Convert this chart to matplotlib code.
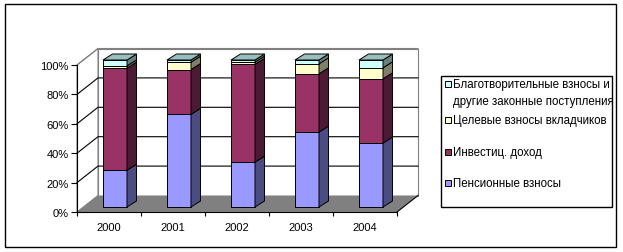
import matplotlib
matplotlib.use("Agg")
from matplotlib import pyplot as plt
from matplotlib.patches import Rectangle
import numpy as np

plt.rcParams['font.family'] = ['Liberation Sans', 'DejaVu Sans']
plt.rcParams['font.size'] = 8

# data, in percent of total
years = ['2000', '2001', '2002', '2003', '2004']
pension = [25.0, 63.0, 30.5, 51.0, 43.5]
invest = [69.5, 30.5, 66.5, 39.6, 43.7]
target = [1.5, 5.0, 1.5, 6.8, 7.5]
charity = [4.0, 1.5, 1.5, 2.6, 5.3]

labels = ['Пенсионные взносы', 'Инвестиц. доход', 'Целевые взносы вкладчиков',
          ['Благотворительные взносы и', 'другие законные поступления']]
front = ['#9999ff', '#993366', '#ffffcc', '#ccffff']
side = ['#4c4c80', '#4d1a33', '#80806a', '#668080']
top = ['#7a7acc', '#7a2952', '#cccca3', '#99bfbf']

W, H = 623, 253
fig = plt.figure(figsize=(W / 100, H / 100), dpi=100)

# front plane of the 3d box: x 77..397 px, y 213..66 px
ax = fig.add_axes([77 / W, (H - 213) / H, 320 / W, 147 / H])
ax.set_xlim(-0.5, 4.5)
ax.set_ylim(0, 100)
pxx = 320 / 5      # px per category
pxy = 147 / 100    # px per percent

DX, DY = 21 / pxx, 16.5 / pxy          # full depth of the box
bw = 24 / pxx                          # bar width
shift, lift = 6 / pxx, 5 / pxy         # bar placed inside the depth
sdx, sdy = 9.5 / pxx, 6 / pxy          # bar depth

gray = '#808080'
x0, x1 = -0.5, 4.5
# walls and floor
ax.fill([x0 + DX, x1 + DX, x1 + DX, x0 + DX], [DY, DY, 100 + DY, 100 + DY],
        fc='white', ec=gray, lw=0.8, clip_on=False, zorder=0)
ax.fill([x0, x0 + DX, x0 + DX, x0], [0, DY, 100 + DY, 100],
        fc='white', ec=gray, lw=0.8, clip_on=False, zorder=0)
ax.fill([x0, x1, x1 + DX, x0 + DX], [0, 0, DY, DY],
        fc=gray, ec='none', clip_on=False, zorder=1)
ax.plot([x1, x1 + DX], [0, DY], color='black', lw=0.8, clip_on=False, zorder=1)
for v in range(20, 101, 20):
    c = gray if v == 100 else 'black'
    ax.plot([x0, x0 + DX, x1 + DX], [v, v + DY, v + DY], color=c, lw=0.8,
            clip_on=False, zorder=1)

# stacked bars with fake depth
xs = np.arange(len(years)) + shift
series = [pension, invest, target, charity]
base = np.full(len(years), lift)
for k, vals in enumerate(series):
    vals = np.array(vals)
    ax.bar(xs, vals, bw, bottom=base, color=front[k], edgecolor='black',
           lw=0.7, zorder=3, clip_on=False)
    for i in range(len(years)):
        r = xs[i] + bw / 2
        b, t = base[i], base[i] + vals[i]
        ax.fill([r, r + sdx, r + sdx, r], [b, b + sdy, t + sdy, t],
                fc=side[k], ec='black', lw=0.7, zorder=3, clip_on=False)
        if k == len(series) - 1:
            l = xs[i] - bw / 2
            ax.fill([l, r, r + sdx, l + sdx], [t, t, t + sdy, t + sdy],
                    fc=top[k], ec='black', lw=0.7, zorder=3, clip_on=False)
    base = base + vals

for s in ['top', 'right']:
    ax.spines[s].set_visible(False)
for s in ['left', 'bottom']:
    ax.spines[s].set_linewidth(0.8)
    ax.spines[s].set_zorder(2)
ax.set_yticks(range(0, 101, 20))
ax.set_yticklabels([f'{v}%' for v in range(0, 101, 20)])
ax.set_xticks(range(len(years)))
ax.set_xticklabels(years)
ax.set_xticks(np.arange(-0.5, 5, 1), minor=True)
ax.tick_params(axis='x', which='major', length=0, pad=7)
ax.tick_params(axis='x', which='minor', length=3, width=0.8)
ax.tick_params(axis='y', length=4, width=0.8, pad=2)
ax.set_facecolor('none')

# legend, placed in pixels
def fx(p):
    return p / W

def fy(p):
    return 1 - p / H

fig.patches.append(Rectangle((fx(441), fy(208)), fx(612 - 441), (208 - 77) / H,
                             transform=fig.transFigure, fc='white', ec='black', lw=1))
rows = [184, 153, 121, 85]   # square centres, px from top
for k, yc in enumerate(rows):
    fig.patches.append(Rectangle((fx(445), fy(yc + 3)), fx(6), 6 / H,
                                 transform=fig.transFigure, fc=front[k], ec='black', lw=0.7))
    lines = labels[k] if isinstance(labels[k], list) else [labels[k]]
    for j, txt in enumerate(lines):
        fig.text(fx(453), fy(yc + 17 * j), txt, va='center', ha='left', fontsize=8.3)

# outer border
fig.patches.append(Rectangle((fx(5), fy(248)), fx(611), 243 / H,
                             transform=fig.transFigure, fc='none', ec='black', lw=1))

fig.savefig('out.png', dpi=100)
